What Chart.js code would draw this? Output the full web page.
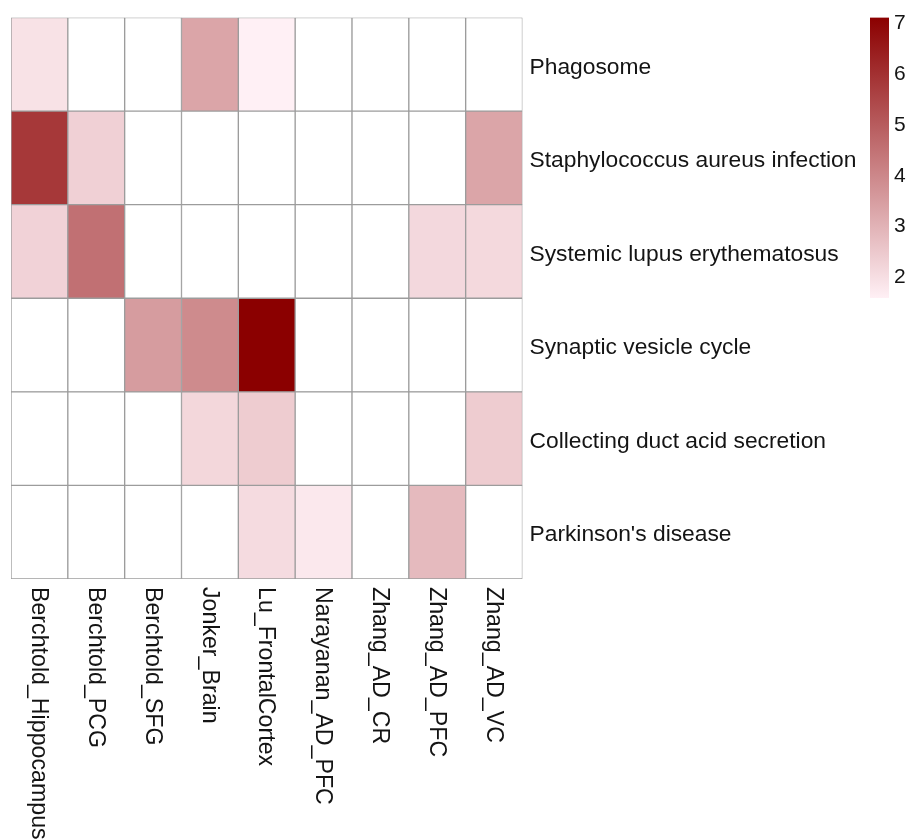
<!DOCTYPE html>
<html>
<head>
<meta charset="utf-8">
<title>Pathway enrichment heatmap</title>
<script src="https://cdn.jsdelivr.net/npm/chart.js@4.4.1/dist/chart.umd.min.js"></script>
<style>
  html, body { margin: 0; padding: 0; background: #ffffff; }
  #wrap { position: relative; width: 915px; height: 839px; }
  #heat { position: absolute; left: 0; top: 0; }
  #bar { position: absolute; left: 860px; top: 0; }
</style>
</head>
<body>
<div id="wrap">
  <canvas id="heat" width="915" height="839"></canvas>
  <canvas id="bar" width="55" height="320"></canvas>
</div>
<script>
// Datasets (columns) and pathways (rows, top to bottom)
const columns = ['Berchtold_Hippocampus', 'Berchtold_PCG', 'Berchtold_SFG', 'Jonker_Brain',
  'Lu_FrontalCortex', 'Narayanan_AD_PFC', 'Zhang_AD_CR', 'Zhang_AD_PFC', 'Zhang_AD_VC'];
const pathways = ['Phagosome', 'Staphylococcus aureus infection', 'Systemic lupus erythematosus',
  'Synaptic vesicle cycle', 'Collecting duct acid secretion', "Parkinson's disease"];

// Enrichment score per dataset; null = not significant (blank cell)
const phagosome       = [1.90, null, null, 3.30, 1.57, null, null, null, null];
const staphAureus     = [5.80, 2.30, null, null, null, null, null, null, 3.30];
const lupus           = [2.25, 4.50, null, null, null, null, null, 2.12, 2.10];
const synapticVesicle = [null, null, 3.50, 3.90, 7.08, null, null, null, null];
const collectingDuct  = [null, null, null, 2.15, 2.40, null, null, null, 2.40];
const parkinsons      = [null, null, null, null, 2.05, 1.75, null, 2.80, null];

const rows = [phagosome, staphAureus, lupus, synapticVesicle, collectingDuct, parkinsons];

// Colour scale range and legend ticks
const scaleMin = 1.57;
const scaleMax = 7.08;
const legendTicks = [2, 3, 4, 5, 6, 7];

const LOW = [255, 240, 245];   // lavenderblush
const HIGH = [139, 0, 0];      // darkred
const FONT = "'Liberation Sans', Arial, Helvetica, sans-serif";
const TEXT = '#141414';

function colorFor(v) {
  if (v === null || v === undefined) return '#ffffff';
  const t = Math.max(0, Math.min(1, (v - scaleMin) / (scaleMax - scaleMin)));
  const c = LOW.map((lo, i) => Math.round(lo + (HIGH[i] - lo) * t));
  return `rgb(${c[0]},${c[1]},${c[2]})`;
}

// One stacked dataset per pathway; bottom row first so the stack reads top-down
const datasets = [];
for (let r = rows.length - 1; r >= 0; r--) {
  datasets.push({
    label: pathways[r],
    data: columns.map(() => 1),
    values: rows[r],
    backgroundColor: rows[r].map(colorFor),
    borderColor: '#9c9c9c',
    borderWidth: 1,
    borderSkipped: false,
    barPercentage: 1,
    categoryPercentage: 1,
    stack: 'cells'
  });
}

// Column names below the grid, reading top to bottom
const columnLabels = {
  id: 'columnLabels',
  afterDraw(chart) {
    const { ctx, chartArea } = chart;
    const x = chart.scales.x;
    ctx.save();
    ctx.font = `23.2px ${FONT}`;
    ctx.fillStyle = TEXT;
    ctx.textAlign = 'left';
    ctx.textBaseline = 'middle';
    columns.forEach((name, i) => {
      ctx.save();
      ctx.translate(x.getPixelForValue(i) - 1, chartArea.bottom + 8);
      ctx.rotate(Math.PI / 2);
      ctx.fillText(name, 0, 0);
      ctx.restore();
    });
    ctx.restore();
  }
};

new Chart(document.getElementById('heat'), {
  type: 'bar',
  data: { labels: columns, datasets },
  plugins: [columnLabels],
  options: {
    responsive: false,
    animation: false,
    layout: { padding: { left: 11, top: 17.5, right: 0, bottom: 260 } },
    plugins: { legend: { display: false }, tooltip: { enabled: false } },
    scales: {
      x: {
        type: 'category',
        stacked: true,
        offset: true,
        display: false
      },
      y: {
        stacked: true,
        min: 0,
        max: rows.length,
        display: false
      },
      yRows: {
        type: 'category',
        axis: 'y',
        position: 'right',
        labels: pathways,
        offset: true,
        grid: { display: false, drawTicks: false },
        border: { display: false },
        ticks: { font: { family: FONT, size: 22.8 }, color: TEXT, padding: 7, labelOffset: 3 },
        afterFit(scale) {
          scale.width = 392.5;
          scale.paddingTop = 0;
          scale.paddingBottom = 0;
        }
      }
    }
  }
});

// Colour key
new Chart(document.getElementById('bar'), {
  type: 'bar',
  data: {
    labels: ['key'],
    datasets: [{
      data: [[scaleMin, scaleMax]],
      borderWidth: 0,
      barPercentage: 1,
      categoryPercentage: 1,
      backgroundColor(context) {
        const chart = context.chart;
        const y = chart.scales.y;
        if (!chart.chartArea || !y) return colorFor(scaleMax);
        const g = chart.ctx.createLinearGradient(0, y.getPixelForValue(scaleMin), 0, y.getPixelForValue(scaleMax));
        g.addColorStop(0, colorFor(scaleMin));
        g.addColorStop(1, colorFor(scaleMax));
        return g;
      }
    }]
  },
  options: {
    responsive: false,
    animation: false,
    layout: { padding: { left: 10, top: 17.5, right: 0, bottom: 22 } },
    plugins: { legend: { display: false }, tooltip: { enabled: false } },
    scales: {
      x: { display: false, offset: true },
      y: {
        position: 'right',
        min: scaleMin,
        max: scaleMax,
        grid: { display: false, drawTicks: false },
        border: { display: false },
        afterBuildTicks(scale) { scale.ticks = legendTicks.map(v => ({ value: v })); },
        ticks: { font: { family: FONT, size: 21 }, color: TEXT, padding: 5, labelOffset: 1.5 },
        afterFit(scale) {
          scale.width = 26;
          scale.paddingTop = 0;
          scale.paddingBottom = 0;
        }
      }
    }
  }
});
</script>
</body>
</html>
